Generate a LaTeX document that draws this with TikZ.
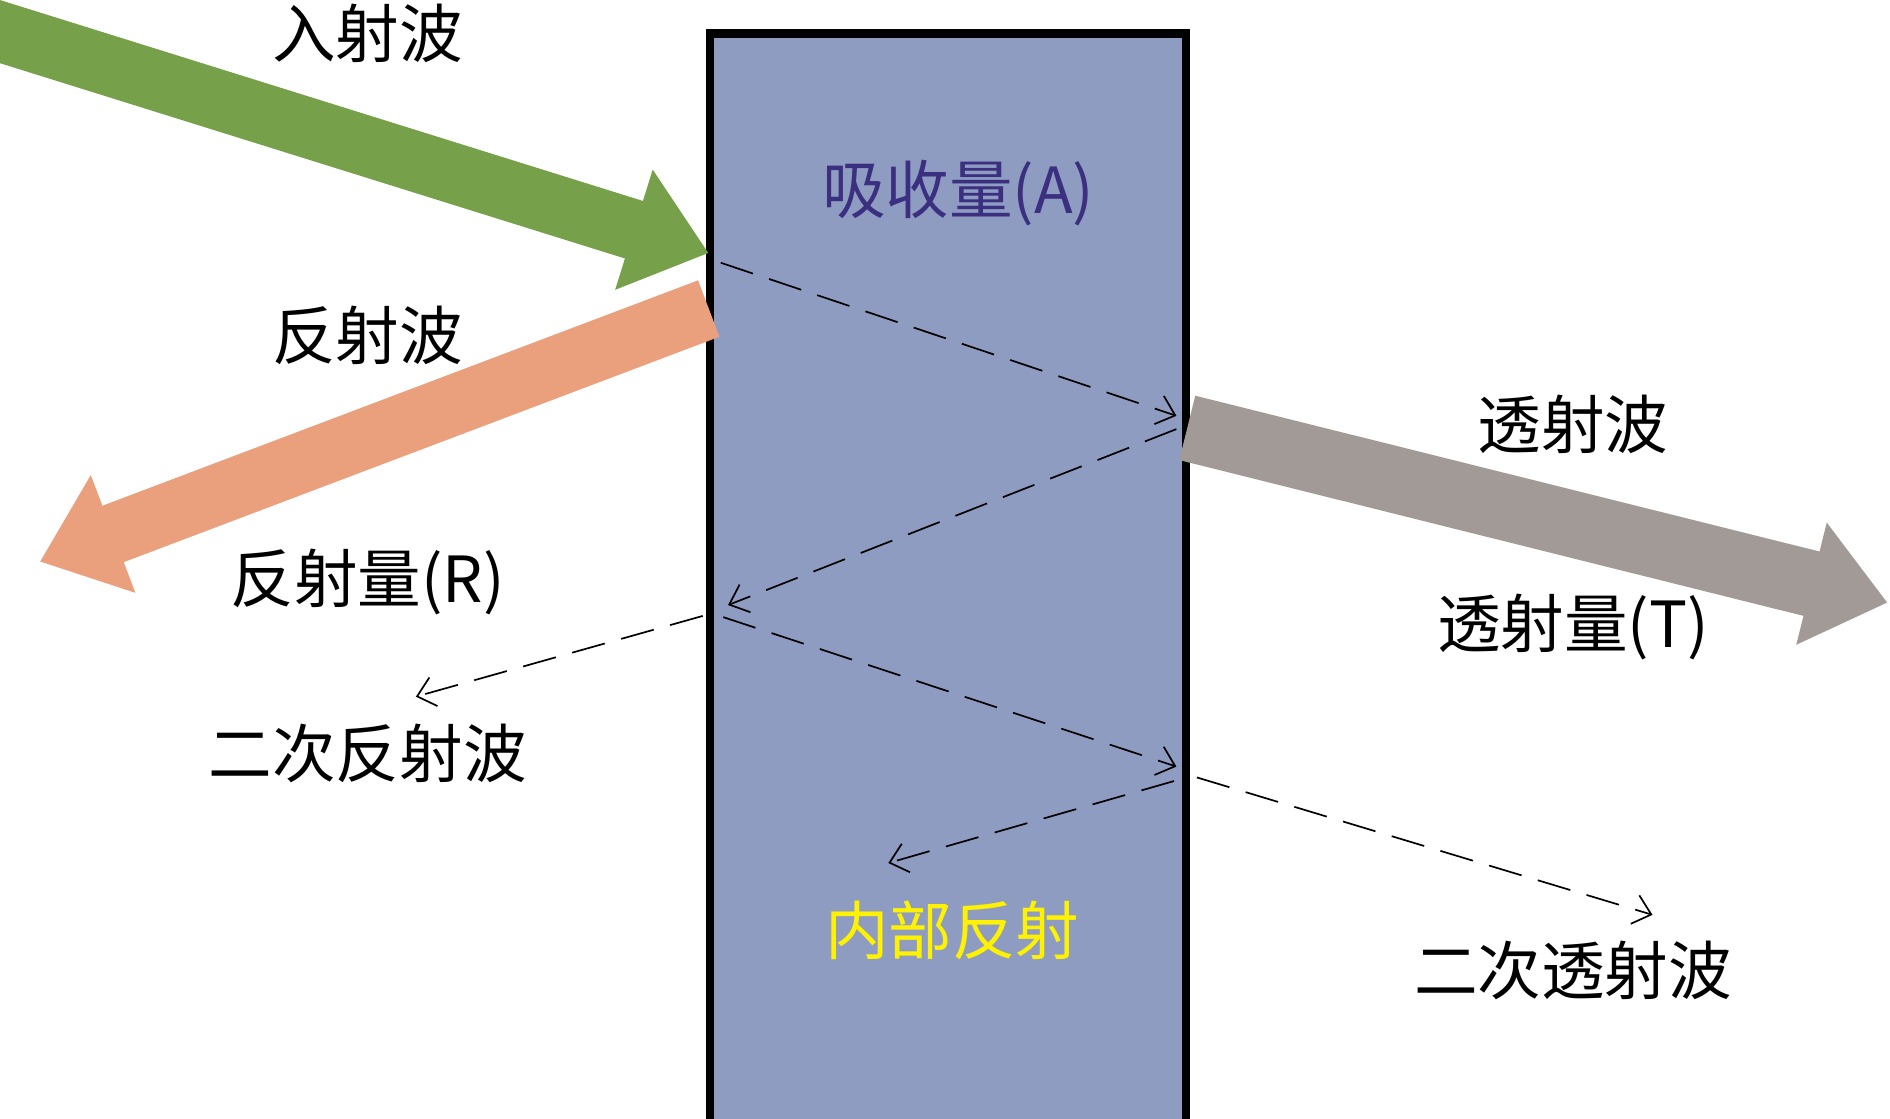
\documentclass[tikz,border=0pt]{standalone}
\usepackage{fontspec}
\newfontfamily\cjk{Noto Sans CJK SC}
\usetikzlibrary{arrows.meta}
\definecolor{slab}{HTML}{8F9CC2}
\definecolor{incgreen}{HTML}{76A04A}
\definecolor{refsalmon}{HTML}{EBA07D}
\definecolor{transgray}{HTML}{A29A96}
\definecolor{absviolet}{HTML}{3B2F80}
\tikzset{
	lbl/.style = {font=\cjk\fontsize{15}{17}\selectfont},
	wave/.style = {line width=0.5cm, -{Triangle[width=1cm,length=0.65cm]}},
	echo/.style = {dashed, dash pattern=on 8pt off 4pt, thin, -{Straight Barb[length=4pt,width=7pt]}}
}
\begin{document}
\begin{tikzpicture}[x=0.01cm, y=-0.01cm]
				\useasboundingbox (0,0) rectangle (1568,928);
				\clip (0,0) rectangle (1568,928);
				% slab
				\draw[fill=slab, line width=2pt] (589,28) rectangle (984,940);
				% main waves
				\coordinate (incA) at (-20,20);
				\coordinate (incB) at (588,210);
				\coordinate (refA) at (588,256);
				\coordinate (refB) at (33,466);
				\coordinate (trA) at (985,355);
				\coordinate (trB) at (1566,500);
				\draw[wave, incgreen] (incA) -- (incB);
				\draw[wave, refsalmon] (refA) -- (refB);
				\draw[wave, line width=0.55cm, transgray] (trA) -- (trB);
				% internal bounces
				\coordinate (p0) at (598,218);
				\coordinate (p1) at (976,345);
				\coordinate (p2) at (976,356);
				\coordinate (p3) at (604,502);
				\coordinate (p4) at (600,512);
				\coordinate (p5) at (976,636);
				\coordinate (p6) at (974,648);
				\coordinate (p7) at (737,716);
				\coordinate (q0) at (583,511);
				\coordinate (q1) at (345,578);
				\coordinate (r0) at (993,645);
				\coordinate (r1) at (1371,759);
				\draw[echo] (p0) -- (p1);
				\draw[echo] (p2) -- (p3);
				\draw[echo] (p4) -- (p5);
				\draw[echo] (p6) -- (p7);
				\draw[echo] (q0) -- (q1);
				\draw[echo] (r0) -- (r1);
				% labels
				\node[lbl] (inc) at (305,28) {入射波};
				\node[lbl, absviolet] (abs) at (795,160) {吸收量(A)};
				\node[lbl] (ref) at (305,278) {反射波};
				\node[lbl] (refq) at (305,483) {反射量(R)};
				\node[lbl] (tr) at (1305,352) {透射波};
				\node[lbl] (trq) at (1305,520) {透射量(T)};
				\node[lbl] (ref2) at (305,625) {二次反射波};
				\node[lbl, yellow] (inner) at (790,772) {内部反射};
				\node[lbl] (tr2) at (1305,805) {二次透射波};
\end{tikzpicture}
\end{document}
